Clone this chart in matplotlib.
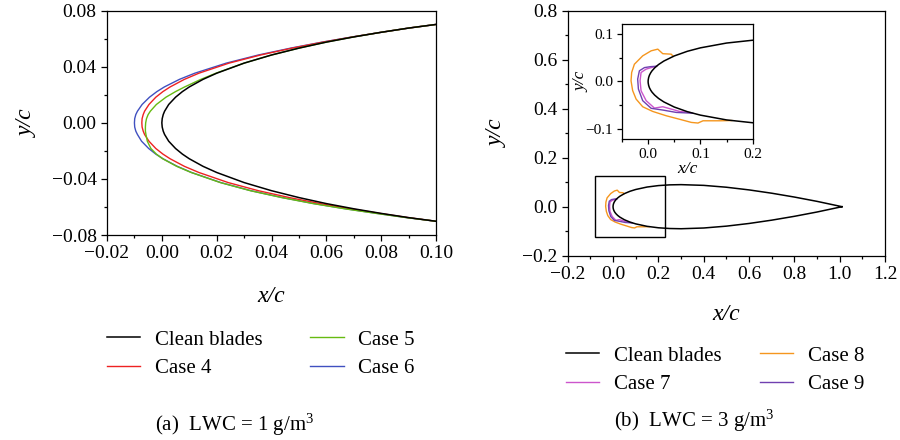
import matplotlib
matplotlib.use("Agg")
import matplotlib.pyplot as plt
from matplotlib.ticker import MultipleLocator, FuncFormatter
from matplotlib.patches import Rectangle

# ---------------- data ----------------
# (a) LWC = 1 g/m3, leading-edge detail; contours go upper TE -> nose -> lower TE
clean_a_x = [0.10, 0.09, 0.08, 0.07, 0.06, 0.05, 0.04, 0.03, 0.02, 0.015, 0.01, 0.0075, 0.005,
             0.0025, 0.001, 0.0005, 0.00013, 0.0, 0.00013, 0.0005, 0.001, 0.0025, 0.005, 0.0075,
             0.01, 0.015, 0.02, 0.03, 0.04, 0.05, 0.06, 0.07, 0.08, 0.09, 0.10]
clean_a_y = [0.0702, 0.0676, 0.0646, 0.0613, 0.0576, 0.0533, 0.0484, 0.0426, 0.0354, 0.0310, 0.0256,
             0.0223, 0.0183, 0.0131, 0.0083, 0.0059, 0.0030, 0.0, -0.0030, -0.0059, -0.0083, -0.0131,
             -0.0183, -0.0223, -0.0256, -0.0310, -0.0354, -0.0426, -0.0484, -0.0533, -0.0576,
             -0.0613, -0.0646, -0.0676, -0.0702]

case4_x = [0.10, 0.09, 0.08, 0.0696, 0.0588, 0.0475, 0.0360, 0.0245, 0.0135, 0.0082, 0.0030, 0.0004,
           -0.0022, -0.0047, -0.0063, -0.0068, -0.0072, -0.0073, -0.0072, -0.0068, -0.0063, -0.0047,
           -0.0022, 0.0004, 0.0030, 0.0082, 0.0135, 0.0242, 0.0352, 0.0465, 0.0578, 0.0688, 0.0795,
           0.0899, 0.10]
case4_y = [0.0702, 0.0676, 0.0646, 0.0613, 0.0576, 0.0533, 0.0484, 0.0426, 0.0354, 0.0310, 0.0256,
           0.0223, 0.0183, 0.0131, 0.0083, 0.0059, 0.0030, 0.0, -0.0030, -0.0059, -0.0083, -0.0131,
           -0.0183, -0.0223, -0.0256, -0.0310, -0.0354, -0.0426, -0.0484, -0.0533, -0.0576,
           -0.0613, -0.0646, -0.0676, -0.0702]

case5_x = [0.10, 0.09, 0.08, 0.07, 0.06, 0.05, 0.04, 0.03, 0.0197, 0.0142, 0.0083, 0.0050, 0.0015,
           -0.0020, -0.0042, -0.0050, -0.0056, -0.0059, -0.0060, -0.0060, -0.0058, -0.0053, -0.0040,
           -0.0020, 0.0003, 0.0054, 0.0107, 0.0213, 0.0323, 0.0437, 0.0552, 0.0667, 0.0782, 0.0892,
           0.10]
case5_y = [0.0702, 0.0676, 0.0646, 0.0613, 0.0576, 0.0533, 0.0484, 0.0426, 0.0354, 0.0310, 0.0256,
           0.0223, 0.0183, 0.0131, 0.0083, 0.0059, 0.0030, 0.0, -0.0030, -0.0059, -0.0083, -0.0131,
           -0.0183, -0.0223, -0.0256, -0.0310, -0.0354, -0.0426, -0.0484, -0.0533, -0.0576,
           -0.0613, -0.0646, -0.0676, -0.0702]

case6_x = [0.10, 0.09, 0.08, 0.0695, 0.0585, 0.0470, 0.0352, 0.0235, 0.0120, 0.0064, 0.0009, -0.0018,
           -0.0045, -0.0072, -0.0089, -0.0095, -0.0099, -0.0100, -0.0099, -0.0095, -0.0089, -0.0074,
           -0.0048, -0.0022, 0.0004, 0.0056, 0.0108, 0.0215, 0.0325, 0.0440, 0.0555, 0.0670, 0.0785,
           0.0893, 0.10]
case6_y = [0.0702, 0.0676, 0.0646, 0.0613, 0.0576, 0.0533, 0.0484, 0.0426, 0.0354, 0.0310, 0.0256,
           0.0223, 0.0183, 0.0131, 0.0083, 0.0059, 0.0030, 0.0, -0.0030, -0.0059, -0.0083, -0.0131,
           -0.0183, -0.0223, -0.0256, -0.0310, -0.0354, -0.0426, -0.0484, -0.0533, -0.0576,
           -0.0613, -0.0646, -0.0676, -0.0702]

# (b) LWC = 3 g/m3, whole blade section
clean_b_x = [1.01, 0.9, 0.8, 0.7, 0.6, 0.5, 0.4, 0.3, 0.25, 0.2, 0.15, 0.1, 0.075, 0.05, 0.03, 0.02,
             0.0125, 0.0075, 0.005, 0.0025, 0.001, 0.00013, 0.0, 0.00013, 0.001, 0.0025, 0.005,
             0.0075, 0.0125, 0.02, 0.03, 0.05, 0.075, 0.1, 0.15, 0.2, 0.25, 0.3, 0.4, 0.5, 0.6, 0.7,
             0.8, 0.9, 1.01]
clean_b_y = [0.0, 0.0217, 0.0393, 0.0550, 0.0685, 0.0794, 0.0870, 0.0900, 0.0891, 0.0861, 0.0802,
             0.0702, 0.0630, 0.0533, 0.0426, 0.0354, 0.0284, 0.0223, 0.0183, 0.0131, 0.0083, 0.0030,
             0.0, -0.0030, -0.0083, -0.0131, -0.0183, -0.0223, -0.0284, -0.0354, -0.0426, -0.0533,
             -0.0630, -0.0702, -0.0802, -0.0861, -0.0891, -0.0900, -0.0870, -0.0794, -0.0685,
             -0.0550, -0.0393, -0.0217, 0.0]

case7_x = [0.016, 0.006, -0.0038, -0.0135, -0.0154, -0.0135, -0.0038, 0.0121, 0.028, 0.044, 0.060,
           0.080]
case7_y = [0.0318, 0.0290, 0.0258, 0.0188, 0.0015, -0.0194, -0.0400, -0.0555, -0.0527, -0.0575,
           -0.0625, -0.0648]

case8_x = [0.048, 0.0442, 0.028, 0.0185, 0.0058, -0.0104, -0.0263, -0.0315, -0.0327, -0.0296,
           -0.023, -0.0104, 0.0088, 0.0346, 0.0635, 0.0827, 0.0954, 0.105, 0.137, 0.160]
case8_y = [0.0525, 0.057, 0.058, 0.0675, 0.064, 0.0535, 0.036, 0.0188, 0.0015, -0.019, -0.0367,
           -0.0527, -0.0625, -0.0715, -0.0798, -0.0854, -0.0867, -0.082, -0.082, -0.0815]

case9_x = [0.016, 0.005, -0.007, -0.0167, -0.020, -0.0186, -0.0104, 0.0058, 0.028, 0.054, 0.085]
case9_y = [0.0318, 0.031, 0.029, 0.0223, 0.005, -0.0158, -0.040, -0.056, -0.0596, -0.0646, -0.0661]

# zoom box drawn on panel (b): x0, y0, width, height (data units)
zoom_box = (-0.08, -0.125, 0.31, 0.25)

labels_a = ["Clean blades", "Case 4", "Case 5", "Case 6"]
labels_b = ["Clean blades", "Case 7", "Case 8", "Case 9"]
colors_a = ["#000000", "#ee2222", "#66bb11", "#4050c0"]
colors_b = ["#000000", "#cc55cc", "#f5961e", "#7040b0"]
caption_a = r"(a)  LWC = 1 g/m$^{3}$"
caption_b = r"(b)  LWC = 3 g/m$^{3}$"

# ---------------- style ----------------
plt.rcParams["font.family"] = ["Liberation Serif", "DejaVu Serif"]
plt.rcParams["mathtext.fontset"] = "custom"
plt.rcParams["mathtext.rm"] = "Liberation Serif"
plt.rcParams["mathtext.it"] = "Liberation Serif:italic"
plt.rcParams["mathtext.default"] = "regular"
plt.rcParams["axes.linewidth"] = 0.9

def minus_fmt(fmt):
    return FuncFormatter(lambda v, p: (fmt % v).replace("-", "\u2212") if abs(v) > 1e-12
                         else fmt % 0.0)

def style_axis(ax, size, major_len=4.5, minor_len=2.5):
    ax.tick_params(which="both", direction="out", top=False, right=False, width=0.9,
                   labelsize=size, pad=3)
    ax.tick_params(which="major", length=major_len)
    ax.tick_params(which="minor", length=minor_len)

fig = plt.figure(figsize=(9, 4.4), dpi=100)

# ---------------- panel (a) ----------------
axa = fig.add_axes([0.1189, 0.4659, 0.3656, 0.5098])
la0, = axa.plot(clean_a_x, clean_a_y, color=colors_a[0], lw=1.1, zorder=4)
la1, = axa.plot(case4_x, case4_y, color=colors_a[1], lw=1.0, zorder=3)
la2, = axa.plot(case5_x, case5_y, color=colors_a[2], lw=1.0, zorder=3)
la3, = axa.plot(case6_x, case6_y, color=colors_a[3], lw=1.0, zorder=2)
axa.set_xlim(-0.02, 0.10)
axa.set_ylim(-0.08, 0.08)
axa.xaxis.set_major_locator(MultipleLocator(0.02))
axa.xaxis.set_minor_locator(MultipleLocator(0.01))
axa.yaxis.set_major_locator(MultipleLocator(0.04))
axa.yaxis.set_minor_locator(MultipleLocator(0.02))
axa.xaxis.set_major_formatter(minus_fmt("%.2f"))
axa.yaxis.set_major_formatter(minus_fmt("%.2f"))
style_axis(axa, 14)
axa.set_xlabel("x/c", fontsize=17, fontstyle="italic", labelpad=17)
axa.set_ylabel("y/c", fontsize=17, fontstyle="italic", labelpad=10)

# ---------------- panel (b) ----------------
axb = fig.add_axes([0.6308, 0.4189, 0.3526, 0.5568])
lb0, = axb.plot(clean_b_x, clean_b_y, color=colors_b[0], lw=1.1, zorder=4)
lb1, = axb.plot(case7_x, case7_y, color=colors_b[1], lw=1.0, zorder=3)
lb2, = axb.plot(case8_x, case8_y, color=colors_b[2], lw=1.0, zorder=2)
lb3, = axb.plot(case9_x, case9_y, color=colors_b[3], lw=1.0, zorder=3)
axb.add_patch(Rectangle((zoom_box[0], zoom_box[1]), zoom_box[2], zoom_box[3],
                        fill=False, edgecolor="black", lw=1.0, zorder=5))
axb.set_xlim(-0.2, 1.2)
axb.set_ylim(-0.2, 0.8)
axb.xaxis.set_major_locator(MultipleLocator(0.2))
axb.xaxis.set_minor_locator(MultipleLocator(0.1))
axb.yaxis.set_major_locator(MultipleLocator(0.2))
axb.yaxis.set_minor_locator(MultipleLocator(0.1))
axb.xaxis.set_major_formatter(minus_fmt("%.1f"))
axb.yaxis.set_major_formatter(minus_fmt("%.1f"))
style_axis(axb, 14)
axb.set_xlabel("x/c", fontsize=17, fontstyle="italic", labelpad=15)
axb.set_ylabel("y/c", fontsize=17, fontstyle="italic", labelpad=10)

# inset
axi = fig.add_axes([0.6911, 0.6841, 0.1452, 0.2614])
axi.plot(clean_b_x, clean_b_y, color=colors_b[0], lw=1.1, zorder=4)
axi.plot(case7_x, case7_y, color=colors_b[1], lw=1.0, zorder=3)
axi.plot(case8_x, case8_y, color=colors_b[2], lw=1.0, zorder=2)
axi.plot(case9_x, case9_y, color=colors_b[3], lw=1.0, zorder=3)
axi.set_xlim(-0.05, 0.2)
axi.set_ylim(-0.12, 0.12)
axi.xaxis.set_major_locator(MultipleLocator(0.1))
axi.xaxis.set_minor_locator(MultipleLocator(0.05))
axi.yaxis.set_major_locator(MultipleLocator(0.1))
axi.yaxis.set_minor_locator(MultipleLocator(0.05))
axi.xaxis.set_major_formatter(minus_fmt("%.1f"))
axi.yaxis.set_major_formatter(minus_fmt("%.1f"))
style_axis(axi, 11, major_len=3.5, minor_len=2.0)
axi.set_xlabel("x/c", fontsize=12.5, fontstyle="italic", labelpad=0)
axi.set_ylabel("y/c", fontsize=12.5, fontstyle="italic", labelpad=-3)

# ---------------- legends and captions ----------------
leg_kw = dict(ncol=2, frameon=False, fontsize=15, handlelength=1.6, handletextpad=0.7,
              labelspacing=0.42, borderpad=0, borderaxespad=0, loc="upper left")
fig.legend([la0, la1, la2, la3], labels_a, bbox_to_anchor=(107 / 900, 1 - 330 / 440),
           columnspacing=2.3, **leg_kw)
fig.legend([lb0, lb1, lb2, lb3], labels_b, bbox_to_anchor=(566 / 900, 1 - 346 / 440),
           columnspacing=1.85, **leg_kw)
fig.text(155 / 900, 1 - 425 / 440, caption_a, fontsize=15, va="center", ha="left")
fig.text(614 / 900, 1 - 421 / 440, caption_b, fontsize=15, va="center", ha="left")

fig.savefig("out.png", dpi=100)
